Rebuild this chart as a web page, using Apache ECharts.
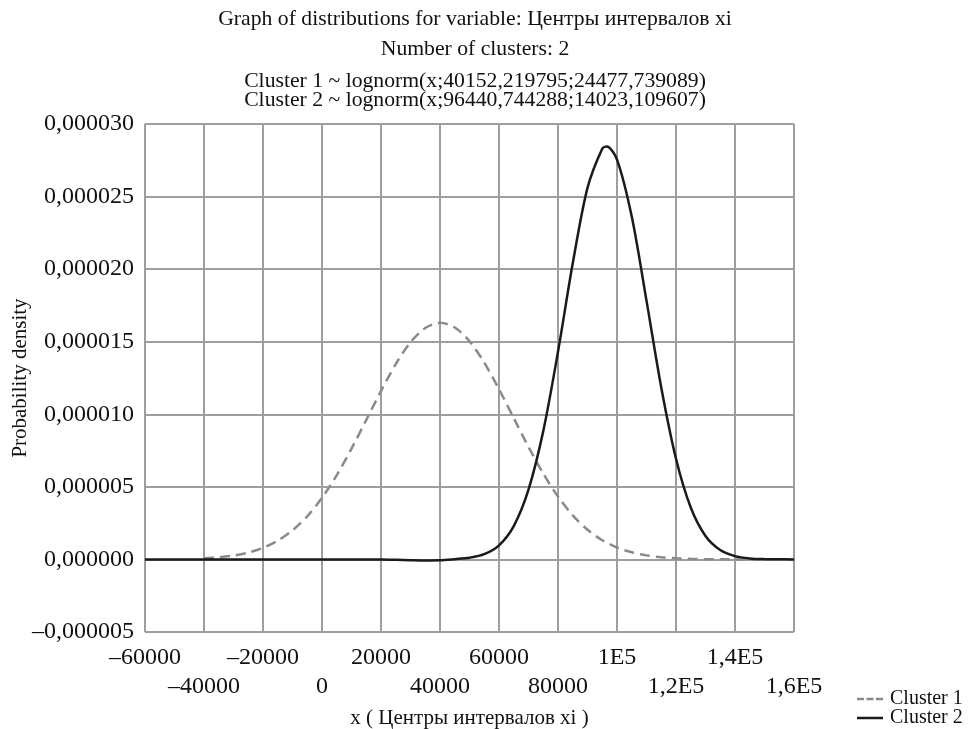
<!DOCTYPE html>
<html>
<head>
<meta charset="utf-8">
<script src="https://cdn.jsdelivr.net/npm/echarts@6/dist/echarts.min.js"></script>
<style>html,body{margin:0;padding:0;background:#fff}#c{width:972px;height:729px}</style>
</head>
<body>
<div id="c"></div>
<script>
// Values (density in units of 1e-6)
const UNIT = 1e-6;
const cluster1X = [-40000,-35000,-30000,-25000,-20000,-15000,-10000,-5000,0,5000,10000,15000,20000,25000,30000,35000,40000,45000,50000,55000,60000,65000,70000,75000,80000,85000,90000,95000,100000,105000,110000,115000,120000,125000,130000,135000,140000,145000,150000];
const cluster1Y = [0.08,0.15,0.27,0.47,0.80,1.29,2.00,2.97,4.24,5.81,7.63,9.61,11.60,13.46,14.96,15.94,16.30,15.98,15.03,13.56,11.73,9.74,7.75,5.92,4.33,3.04,2.05,1.32,0.82,0.49,0.28,0.15,0.08,0.04,0.02,0.01,0.00,0.00,0.00];
const cluster2X = [-60000,-55000,-50000,-45000,-40000,-35000,-30000,-25000,-20000,-15000,-10000,-5000,0,5000,10000,15000,20000,25000,30000,35000,40000,45000,50000,55000,60000,65000,70000,75000,80000,85000,90000,95000,96500,100000,105000,110000,115000,120000,125000,130000,135000,140000,145000,150000,155000,160000];
const cluster2Y = [0,0,0,0,0,0,0,0,0,0,0,0,0,0,0,0,0,-0.02,-0.05,-0.07,-0.06,0.02,0.12,0.36,0.97,2.30,4.81,8.84,14.31,20.40,25.60,28.30,28.45,27.55,23.62,17.83,11.85,6.94,3.58,1.62,0.65,0.23,0.07,0.02,0.01,0.00];
const xTickLabels = ['–60000','–40000','–20000','0','20000','40000','60000','80000','1E5','1,2E5','1,4E5','1,6E5'];
const yTickLabels = ['–0,000005','0,000000','0,000005','0,000010','0,000015','0,000020','0,000025','0,000030'];
const seriesNames = ['Cluster 1','Cluster 2'];
const titleLines = [
  'Graph of distributions for variable: Центры интервалов xi',
  'Number of clusters: 2',
  'Cluster 1 ~ lognorm(x;40152,219795;24477,739089)',
  'Cluster 2 ~ lognorm(x;96440,744288;14023,109607)'
];

const FONT = '"Liberation Serif", "DejaVu Serif", serif';
const XMIN = -60000, XMAX = 160000, XSTEP = 20000, YMIN = -5e-6, YSTEP = 5e-6;
const C1 = '#8a8a8a', C2 = '#1a1a1a', GRID = '#9e9e9e', GW = 2;
const pair = (xs, ys) => xs.map((x, i) => [x, ys[i] * UNIT]);
const chart = echarts.init(document.getElementById('c'));
const titleTops = [3.5, 33.5, 65.5, 84.5];
const legendTops = [684, 703];
const legendIcons = [
  'path://M0,0h7v2.5h-7zM9.5,0h7v2.5h-7zM19,0h7v2.5h-7z',
  'path://M0,0h26v2.5h-26z'
];
const xLabelFor = parity => v => {
  const i = Math.round((v - XMIN) / XSTEP);
  return i % 2 === parity ? xTickLabels[i] : '';
};
const xAxisBase = (parity, margin, showLines) => ({
  type: 'value', min: XMIN, max: XMAX, interval: XSTEP, position: 'bottom',
  axisLine: {show: showLines, lineStyle: {color: GRID, width: GW}},
  axisTick: {show: false},
  splitLine: {show: showLines, lineStyle: {color: GRID, width: GW}},
  axisLabel: {
    margin, fontFamily: FONT, fontSize: 24, color: '#111',
    showMinLabel: true, showMaxLabel: true, hideOverlap: false,
    formatter: xLabelFor(parity)
  }
});
const xMain = Object.assign(xAxisBase(0, 14, true), {
  name: 'x ( Центры интервалов xi )', nameLocation: 'middle', nameGap: 76, nameMoveOverlap: false,
  nameTextStyle: {fontFamily: FONT, fontSize: 21, color: '#111'}
});
const xSecond = xAxisBase(1, 43, false);
chart.setOption({
  animation: false,
  title: titleLines.map((t, i) => ({
    text: t, left: 470, top: titleTops[i], textAlign: 'center',
    textStyle: {fontFamily: FONT, fontSize: 21.7, fontWeight: 'normal', color: '#111'}
  })),
  legend: seriesNames.map((n, i) => ({
    data: [{name: n, icon: legendIcons[i]}], orient: 'vertical', left: 852, top: legendTops[i],
    itemWidth: 26, itemHeight: 2.5, itemGap: 0,
    textStyle: {fontFamily: FONT, fontSize: 20, color: '#111', padding: [0, 0, 0, 2]}
  })),
  grid: {left: 145, right: 178, top: 124, bottom: 97, containLabel: false, outerBoundsMode: 'none'},
  xAxis: [xMain, xSecond],
  yAxis: {
    type: 'value', min: YMIN, max: 3e-5, interval: YSTEP,
    name: 'Probability density', nameLocation: 'middle', nameGap: 114, nameMoveOverlap: false,
    nameTextStyle: {fontFamily: FONT, fontSize: 21, color: '#111'},
    axisLine: {show: true, lineStyle: {color: GRID, width: GW}},
    axisTick: {show: false},
    splitLine: {show: true, lineStyle: {color: GRID, width: GW}},
    axisLabel: {
      margin: 11, fontFamily: FONT, fontSize: 24, color: '#111',
      showMinLabel: true, showMaxLabel: true,
      formatter: v => yTickLabels[Math.round((v - YMIN) / YSTEP)]
    }
  },
  series: [
    {name: seriesNames[0], type: 'line', data: pair(cluster1X, cluster1Y), smooth: 0.3, symbol: 'none',
     lineStyle: {color: C1, width: 2.5, type: [10, 6]}, itemStyle: {color: C1}, z: 3},
    {name: seriesNames[1], type: 'line', data: pair(cluster2X, cluster2Y), smooth: 0.3, symbol: 'none',
     lineStyle: {color: C2, width: 2.5}, itemStyle: {color: C2}, z: 4}
  ]
});
</script>
</body>
</html>
